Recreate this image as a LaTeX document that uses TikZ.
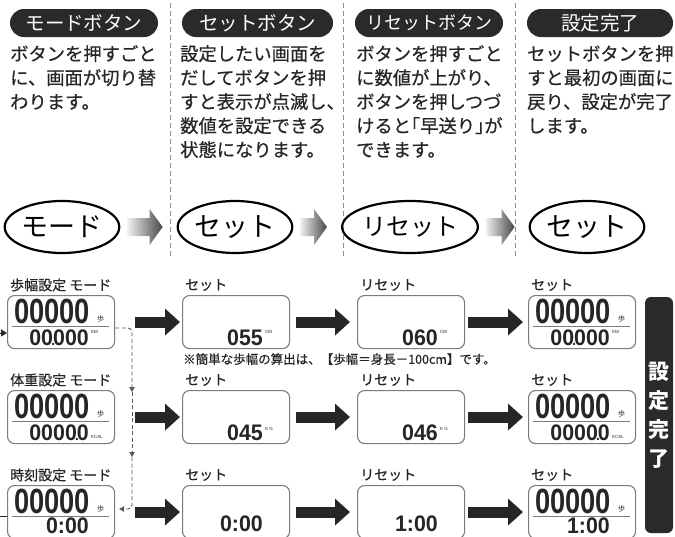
\documentclass[tikz,border=0pt]{standalone}
\usepackage{fontspec}
\usepackage{graphicx}
\setmainfont{Noto Sans CJK JP}
\newfontfamily\jpm{Noto Sans CJK JP}[FakeBold=0.5]
\newfontfamily\segf{Liberation Sans}
\usetikzlibrary{shapes.geometric,arrows.meta,calc}
\definecolor{ink}{HTML}{262626}
\definecolor{pillc}{HTML}{2A2A2A}
\definecolor{lcdc}{HTML}{7C7C7C}
\definecolor{sepc}{HTML}{8E8E8E}
\definecolor{conc}{HTML}{5A5A5A}
\newcommand\dbig[1]{\scalebox{0.78}[1]{\fontsize{35}{35}\selectfont\segf\bfseries #1}}
\newcommand\dsm[1]{\scalebox{0.95}[1]{\fontsize{22.5}{22.5}\selectfont\segf\bfseries #1}}
\newcommand\segdot{\makebox[0pt]{\fontsize{14}{14}\selectfont\segf\bfseries .}}
\newcommand\jlbr{\makebox[0.5em][r]{「}}
\newcommand\jrbr{\makebox[0.5em][l]{」}}
\tikzset{
  pillbox/.style={fill=pillc,text=white,rounded corners=14pt,minimum height=28pt,inner sep=0pt,font=\fontsize{19.5}{19.5}\selectfont},
  bodytxt/.style={text=ink,align=left,inner sep=0pt,anchor=north west,font=\fontsize{18.3}{24}\selectfont\jpm},
  ell/.style={ellipse,draw=black,line width=2.2pt,minimum width=111pt,minimum height=52pt,inner sep=0pt,text=black,font=\fontsize{27}{27}\selectfont},
  garrow/.style={left color=black!6,right color=black!72},
  sepdash/.style={draw=sepc,line width=0.9pt,dash pattern=on 5pt off 3pt},
  lcdbox/.style={draw=lcdc,line width=1.1pt,rounded corners=7pt,minimum width=107pt,minimum height=53pt,inner sep=0pt},
  dig/.style={inner sep=0pt,text=ink},
  steplbl/.style={inner sep=0pt,text=ink,font=\fontsize{7}{7}\selectfont},
  unitlbl/.style={inner sep=0pt,text=ink,font=\fontsize{4.5}{4.5}\selectfont\segf},
  sepline/.style={draw=lcdc,line width=0.9pt},
  lbl/.style={inner sep=0pt,anchor=west,text=ink,font=\fontsize{14}{14}\selectfont\jpm},
  blk/.style={draw=ink,line width=11pt,-{Triangle[length=15pt,width=26pt]}},
  dcon/.style={draw=conc,line width=0.9pt,dash pattern=on 4pt off 2.5pt},
  dtip/.style={-{Triangle[length=5pt,width=5.5pt]}},
  barbox/.style={fill=pillc,text=white,rounded corners=6pt,minimum width=28pt,minimum height=236pt,inner sep=0pt,align=center,font=\fontsize{21}{29}\selectfont\bfseries},
}
\def\bb{50}
\newcommand\fulllcd[6]{%
  \node[lcdbox,anchor=north west] (#1) at (#2,#3) {};
  \node[dig,anchor=base west] (#1t) at ($(#1.north west)+(7,28)$) {\dbig{00000}};
  \node[steplbl,anchor=base west] (#1h) at ($(#1.north west)+(90,26)$) {歩};
  \draw[sepline] ($(#1.north west)+(5,31)$) -- ($(#1.north west)+(102,31)$);
  \node[dig,anchor=base east] (#1b) at ($(#1.north west)+(82,\bb)$) {\dsm{#4}};
  \node[unitlbl,anchor=base west] (#1u) at ($(#1.north west)+(84,#6)$) {#5};
}
\newcommand\setlcd[6]{%
  \node[lcdbox,anchor=north west] (#1) at (#2,#3) {};
  \node[dig,anchor=base east] (#1b) at ($(#1.north west)+(81,\bb)$) {\dsm{#4}};
  \node[unitlbl,anchor=base west] (#1u) at ($(#1.north west)+(83,#6)$) {#5};
}
\begin{document}
\begin{tikzpicture}[x=1pt,y=-1pt]
\fill[white] (0,0) rectangle (675,536);
\useasboundingbox (0,0) rectangle (675,536);

% header pills
\node[pillbox,minimum width=148pt] (p1) at (84,23) {モードボタン};
\node[pillbox,minimum width=151pt] (p2) at (257.5,23) {セットボタン};
\node[pillbox,minimum width=148pt,font=\fontsize{18}{18}\selectfont] (p3) at (429,23) {リセットボタン};
\node[pillbox,minimum width=146pt] (p4) at (600,23) {設定完了};

% separators
\draw[sepdash] (170,3) -- (170,256);
\draw[sepdash] (343,3) -- (343,256);
\draw[sepdash] (515,3) -- (515,256);

% body text
\node[bodytxt] (t1) at (10,45) {ボタンを押すごと\\に、画面が切り替\\わります。};
\node[bodytxt] (t2) at (180,45) {設定したい画面を\\だしてボタンを押\\すと表示が点滅し、\\数値を設定できる\\状態になります。};
\node[bodytxt] (t3) at (356,45) {ボタンを押すごと\\に数値が上がり、\\ボタンを押しつづ\\けると\jlbr 早送り\jrbr が\\できます。};
\node[bodytxt] (t4) at (527,45) {セットボタンを押\\すと最初の画面に\\戻り、設定が完了\\します。};

% ellipses
\node[ell] (e1) at (62,227) {モード};
\node[ell] (e2) at (235,227) {セット};
\node[ell,font=\fontsize{24}{24}\selectfont] (e3) at (410,227) {リセット};
\node[ell] (e4) at (587,227) {セット};

% gradient arrows
\foreach \a/\b in {e1/e2,e2/e3,e3/e4}{
  \path[garrow] ($(\a.east)+(7,-9)$) -- ($(\b.west)+(-27,-9)$) -- ($(\b.west)+(-27,-18)$)
    -- ($(\b.west)+(-14,0)$) -- ($(\b.west)+(-27,18)$) -- ($(\b.west)+(-27,9)$)
    -- ($(\a.east)+(7,9)$) -- cycle;
}

% row 1
\fulllcd{a1}{7}{295}{00\segdot000}{KM}{38}
\setlcd{b1}{182}{295}{055}{CM}{38}
\setlcd{c1}{357}{295}{060}{CM}{38}
\fulllcd{d1}{528}{295}{00\segdot000}{KM}{38}
% row 2
\fulllcd{a2}{7}{390}{0000\segdot0}{KCAL}{48}
\setlcd{b2}{182}{390}{045}{K G}{40}
\setlcd{c2}{357}{390}{046}{K G}{40}
\fulllcd{d2}{528}{390}{0000\segdot0}{KCAL}{48}
% row 3
\def\bb{48}
\fulllcd{a3}{7}{485}{0:00}{}{46}
\fulllcd{d3}{528}{485}{1:00}{}{46}
\def\bb{46}
\setlcd{b3}{182}{485}{0:00}{}{40}
\setlcd{c3}{357}{485}{1:00}{}{40}

% labels
\node[lbl] (la1) at ($(a1.north west)+(3,-10)$) {歩幅設定 モード};
\node[lbl] (lb1) at ($(b1.north west)+(3,-10)$) {セット};
\node[lbl] (lc1) at ($(c1.north west)+(3,-10)$) {リセット};
\node[lbl] (ld1) at ($(d1.north west)+(3,-10)$) {セット};
\node[lbl] (la2) at ($(a2.north west)+(3,-10)$) {体重設定 モード};
\node[lbl] (lb2) at ($(b2.north west)+(3,-10)$) {セット};
\node[lbl] (lc2) at ($(c2.north west)+(3,-10)$) {リセット};
\node[lbl] (ld2) at ($(d2.north west)+(3,-10)$) {セット};
\node[lbl] (la3) at ($(a3.north west)+(3,-10)$) {時刻設定 モード};
\node[lbl] (lb3) at ($(b3.north west)+(3,-10)$) {セット};
\node[lbl] (lc3) at ($(c3.north west)+(3,-10)$) {リセット};
\node[lbl] (ld3) at ($(d3.north west)+(3,-10)$) {セット};

% note
\node[lbl,font=\fontsize{12.5}{12.5}\selectfont\jpm] (note) at ($(b1.south west)+(1,10)$) {※簡単な歩幅の算出は、【歩幅＝身長－100cm】です。};

% black arrows
\foreach \r in {1,2,3}{
  \draw[blk] ($(a\r.east)+(20,0)$) -- ($(b\r.west)+(-2,0)$);
  \draw[blk] ($(b\r.east)+(6,0)$) -- ($(c\r.west)+(-7,0)$);
  \draw[blk] ($(c\r.east)+(3,0)$) -- ($(d\r.west)+(-5,0)$);
}

% dashed mode connector
\coordinate (k1) at (132,392);
\coordinate (k2) at (132,457);
\draw[dcon,dtip,rounded corners=4pt] ($(a1.north east)+(0,33)$) -| (k1);
\draw[dcon,dtip] (k1) -- (k2);
\draw[dcon,dtip,rounded corners=4pt] (k2) |- ($(a3.north east)+(4,24)$);

% loop ends at the left edge
\coordinate (lin) at (0,333);
\coordinate (lout) at (0,516);
\draw[draw=ink,line width=0.9pt,-{Triangle[length=6pt,width=7pt]}] (lin) -- ($(a1.north west)+(0,38)$);
\draw[draw=ink,line width=0.9pt] ($(a3.north west)+(0,31)$) -- (lout);

% vertical bar
\node[barbox] (bar) at (659,415) {設\\定\\完\\了};
\end{tikzpicture}
\end{document}
